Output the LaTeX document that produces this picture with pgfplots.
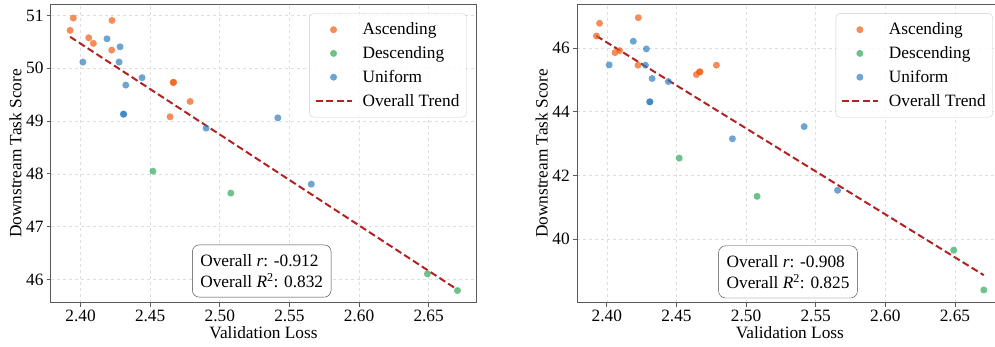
\documentclass[border=0pt]{standalone}
\usepackage{fontspec}
\setmainfont{Liberation Serif}
\usepackage{pgfplots}
\pgfplotsset{compat=1.18}
\definecolor{ascC}{RGB}{240,92,20}
\definecolor{desC}{RGB}{48,169,91}
\definecolor{uniC}{RGB}{48,126,191}
\definecolor{trendC}{RGB}{178,34,34}
\definecolor{spine}{RGB}{90,90,90}
\newcommand{\bigf}{\fontsize{17.3}{20}\selectfont}
\tikzset{
  statbox/.style={draw=black!75, rounded corners=7pt, fill=white, align=left,
    inner xsep=8pt, inner ysep=9.5pt, anchor=south west, font=\fontsize{17.3}{19.5}\selectfont},
}
\pgfplotsset{
  myaxis/.style={
    scale only axis, width=425pt, height=298.4pt,
    xmin=2.3788, xmax=2.684,
    xtick={2.40,2.45,2.50,2.55,2.60,2.65},
    xticklabel style={/pgf/number format/.cd, fixed, fixed zerofill, precision=2},
    /pgf/number format/assume math mode=true,
    font=\bigf,
    tick label style={font=\bigf},
    grid=major, grid style={dashed, black!13, line width=0.6pt},
    axis line style={spine, line width=1pt},
    tick style={spine, line width=0.8pt},
    tick align=outside, major tick length=4pt,
    xtick pos=left, ytick pos=left,
    xlabel={Validation Loss}, ylabel={Downstream Task Score},
    x label style={at={(axis description cs:0.5,-0.1015)}, anchor=center},
    y label style={at={(axis description cs:-0.0835,0.5)}, anchor=center},
    legend style={at={(0.978,0.97)}, anchor=north east, draw=black!20,
      rounded corners=4pt, font=\bigf, row sep=6.2pt, inner xsep=5pt, inner ysep=7.5pt,
      fill=white, fill opacity=0.8, text opacity=1},
    legend cell align=left,
  },
  scat/.style={only marks, mark=*, mark size=3.5pt, color=#1,
    mark options={draw opacity=0, fill=#1, fill opacity=0.7},
    legend image code/.code={\draw[mark repeat=2,mark phase=2,##1] plot coordinates {(0pt,0pt)(18pt,0pt)(36pt,0pt)};\path (44pt,0pt);}},
  trend/.style={no marks, trendC, line width=2pt, dash pattern=on 7pt off 3.5pt,
    legend image code/.code={\draw[##1] (0pt,0pt) -- (36pt,0pt);\path (44pt,0pt);}},
}
\begin{document}
\begin{tikzpicture}
\useasboundingbox (-51pt,-43.3pt) rectangle (944pt,302.7pt);
% ---------- left panel ----------
\begin{axis}[myaxis, ymin=45.56, ymax=51.21, ytick={46,47,48,49,50,51}]
\addplot[scat=ascC] coordinates {
(2.3925,50.716) (2.3948,50.95) (2.4059,50.576) (2.4092,50.47) (2.4226,50.905)
(2.4224,50.343) (2.4665,49.728) (2.4669,49.734) (2.4787,49.37) (2.4643,49.08)};
\addlegendentry{Ascending}
\addplot[scat=desC] coordinates {
(2.4520,48.05) (2.5079,47.635) (2.6491,46.106) (2.6707,45.79)};
\addlegendentry{Descending}
\addplot[scat=uniC] coordinates {
(2.4017,50.116) (2.4190,50.557) (2.4284,50.405) (2.4277,50.116) (2.4442,49.82)
(2.4325,49.68) (2.4308,49.128) (2.4310,49.132) (2.4902,48.865) (2.5417,49.06) (2.5657,47.805)};
\addlegendentry{Uniform}
\addplot[trend] coordinates {(2.3925,50.595) (2.6705,45.81)};
\addlegendentry{Overall Trend}
\node[statbox] at (rel axis cs:0.332,0.018) {Overall \textit{r}: -0.912\\[1.5pt]Overall \textit{R}\textsuperscript{2}: 0.832};
\end{axis}
% ---------- right panel ----------
\begin{axis}[myaxis, at={(526.3pt,0pt)}, ymin=38.0, ymax=47.37, ytick={40,42,44,46}]
\addplot[scat=ascC] coordinates {
(2.3925,46.376) (2.3948,46.774) (2.4059,45.853) (2.4092,45.915) (2.4226,46.95)
(2.4224,45.458) (2.4665,45.244) (2.4669,45.252) (2.4787,45.458) (2.4643,45.163)};
\addlegendentry{Ascending}
\addplot[scat=desC] coordinates {
(2.4520,42.54) (2.5079,41.34) (2.6491,39.65) (2.6707,38.4)};
\addlegendentry{Descending}
\addplot[scat=uniC] coordinates {
(2.4017,45.467) (2.4190,46.21) (2.4284,45.969) (2.4277,45.458) (2.4442,44.945)
(2.4325,45.04) (2.4308,44.305) (2.4310,44.309) (2.4902,43.147) (2.5417,43.53) (2.5657,41.53)};
\addlegendentry{Uniform}
\addplot[trend] coordinates {(2.3925,46.376) (2.6707,38.865)};
\addlegendentry{Overall Trend}
\node[statbox] at (rel axis cs:0.332,0.015) {Overall \textit{r}: -0.908\\[1.5pt]Overall \textit{R}\textsuperscript{2}: 0.825};
\end{axis}
\end{tikzpicture}
\end{document}
